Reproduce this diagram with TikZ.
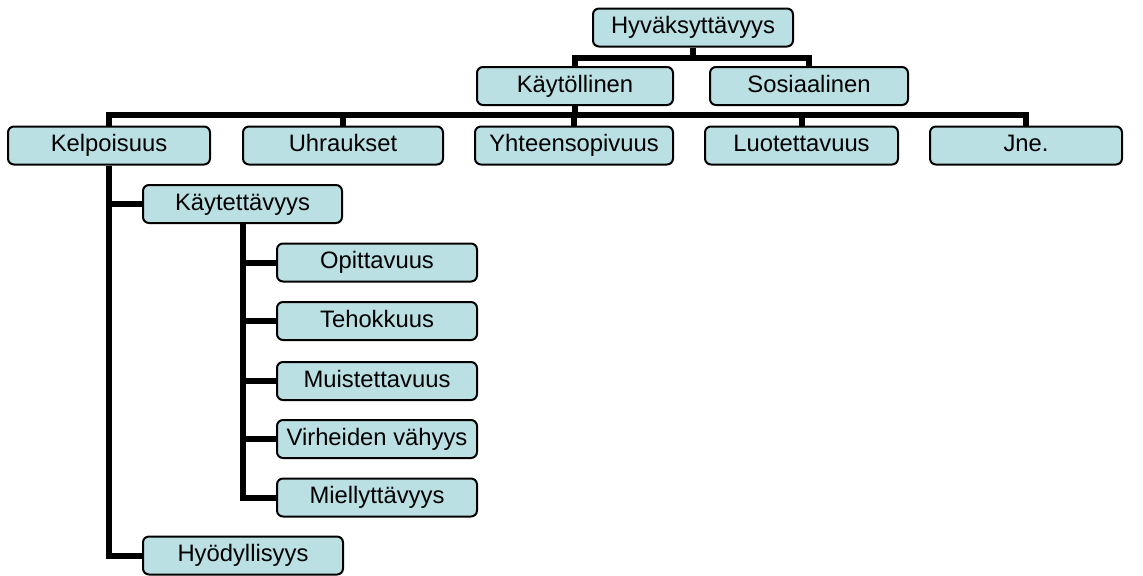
\documentclass[tikz,border=0pt]{standalone}
\usepackage{fontspec}
\setmainfont{Liberation Sans}
\usetikzlibrary{backgrounds}
\definecolor{boxfill}{RGB}{187,224,227}
\begin{document}
\begin{tikzpicture}[x=0.5pt,y=-0.5pt,
  box/.style={draw=black,line width=1pt,fill=boxfill,rounded corners=3pt,
    minimum width=100pt,minimum height=19pt,inner sep=0pt,
    text height=8.7pt,text depth=2.5pt,
    font=\fontsize{11.9}{14}\selectfont},
  conn/.style={line width=3pt,line join=miter}]
\useasboundingbox (0,0) rectangle (1143,575);
\node[box] (h) at (693,27.5) {Hyväksyttävyys};
\node[box,minimum width=98pt] (k) at (575,86) {Käytöllinen};
\node[box,minimum width=99pt] (s) at (809,86) {Sosiaalinen};
\node[box,minimum width=101pt] (kel) at (109,145.5) {Kelpoisuus};
\node[box] (uh) at (343,145.5) {Uhraukset};
\node[box,minimum width=99pt] (yh) at (574,145.5) {Yhteensopivuus};
\node[box,minimum width=96.5pt] (lu) at (801.5,145.5) {Luotettavuus};
\node[box,minimum width=96pt] (jn) at (1026,145.5) {Jne.};
\node[box,minimum width=99.5pt] (ka) at (242.5,204) {Käytettävyys};
\node[box] (op) at (377,262.5) {Opittavuus};
\node[box] (te) at (377,321) {Tehokkuus};
\node[box] (mu) at (377,381) {Muistettavuus};
\node[box] (vi) at (377,439) {Virheiden vähyys};
\node[box] (mi) at (377,497.5) {Miellyttävyys};
\node[box] (hy) at (243,555.5) {Hyödyllisyys};
\coordinate (b1) at (693,58);
\coordinate (b2) at (575,115);
\begin{scope}[on background layer]
\draw[conn] (h.south) -- (b1);
\draw[conn] (k.north) |- (b1) -| (s.north);
\draw[conn] (k.south) -- (b2);
\draw[conn] (kel.north) |- (b2) -| (jn.north);
\foreach \n in {uh,yh,lu} \draw[conn] (\n.north) -- (\n.north |- b2);
\draw[conn] (kel.south) |- (hy.west);
\draw[conn] (kel.south |- ka.west) -- (ka.west);
\draw[conn] (ka.south) |- (mi.west);
\foreach \n in {op,te,mu,vi} \draw[conn] (ka.south |- \n.west) -- (\n.west);
\end{scope}
\end{tikzpicture}
\end{document}
